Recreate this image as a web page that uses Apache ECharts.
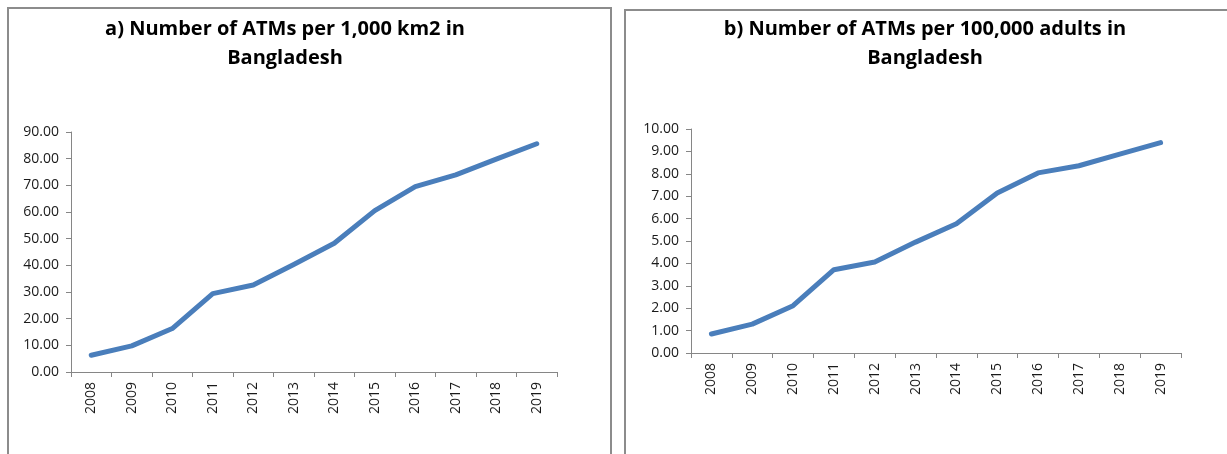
<!DOCTYPE html>
<html>
<head>
<meta charset="utf-8">
<script src="https://cdn.jsdelivr.net/npm/echarts@6/dist/echarts.min.js"></script>
<style>
  html, body { margin: 0; padding: 0; background: #ffffff; }
  #chart { width: 1227px; height: 454px; }
</style>
</head>
<body>
<div id="chart"></div>
<script>
// Years on the category axis
const years = ['2008', '2009', '2010', '2011', '2012', '2013', '2014', '2015', '2016', '2017', '2018', '2019'];

// a) ATMs per 1,000 km2
const atmsPerArea = [6.3, 9.8, 16.3, 29.4, 32.6, 40.3, 48.3, 60.5, 69.5, 73.9, 79.8, 85.6];
// b) ATMs per 100,000 adults
const atmsPerAdults = [0.85, 1.29, 2.11, 3.72, 4.06, 4.95, 5.77, 7.14, 8.04, 8.36, 8.88, 9.39];

const titleA = ['a) Number of ATMs per 1,000 km2 in', 'Bangladesh'];
const titleB = ['b) Number of ATMs per 100,000 adults in', 'Bangladesh'];

const axisGrey = '#868686';
const lineBlue = '#4a7ebb';
const labelFont = 'Open Sans';

function valueAxis(gridIndex, max, interval) {
  return {
    type: 'value', gridIndex: gridIndex, min: 0, max: max, interval: interval,
    axisLine: { show: true, lineStyle: { color: axisGrey, width: 1 } },
    axisTick: { show: true, length: 5, lineStyle: { color: axisGrey } },
    splitLine: { show: false },
    axisLabel: {
      formatter: function (v) { return v.toFixed(2); },
      color: '#1a1a1a', fontFamily: labelFont, fontSize: 14, margin: 12
    }
  };
}

function categoryAxis(gridIndex) {
  return {
    type: 'category', gridIndex: gridIndex, data: years, boundaryGap: true,
    axisLine: { show: true, lineStyle: { color: axisGrey, width: 1 } },
    axisTick: { show: true, length: 5, interval: 0, lineStyle: { color: axisGrey } },
    axisLabel: {
      rotate: 90, interval: 0, margin: 10,
      color: '#1a1a1a', fontFamily: labelFont, fontSize: 14
    }
  };
}

function lineSeries(idx, data) {
  return {
    type: 'line', xAxisIndex: idx, yAxisIndex: idx, data: data,
    symbol: 'none', smooth: false, animation: false,
    lineStyle: { color: lineBlue, width: 5, cap: 'round', join: 'round' }
  };
}

function titleText(lines, cx) {
  return {
    type: 'text', x: cx, y: 15,
    style: {
      text: lines.join('\n'), textAlign: 'center', textVerticalAlign: 'top',
      font: 'bold 20px "Open Sans"', fill: '#000000', lineHeight: 29
    }
  };
}

const chart = echarts.init(document.getElementById('chart'));
chart.setOption({
  backgroundColor: '#ffffff',
  animation: false,
  grid: [
    { left: 71, top: 132, width: 486, height: 240 },
    { left: 691, top: 129, width: 490, height: 224 }
  ],
  xAxis: [categoryAxis(0), categoryAxis(1)],
  yAxis: [valueAxis(0, 90, 10), valueAxis(1, 10, 1)],
  series: [lineSeries(0, atmsPerArea), lineSeries(1, atmsPerAdults)],
  graphic: [
    {
      type: 'rect', shape: { x: 8, y: 8, width: 603, height: 470 },
      style: { fill: 'none', stroke: '#8c8c8c', lineWidth: 2 }
    },
    {
      type: 'rect', shape: { x: 625, y: 10, width: 620, height: 470 },
      style: { fill: 'none', stroke: '#8c8c8c', lineWidth: 2 }
    },
    titleText(titleA, 285),
    titleText(titleB, 925)
  ]
});
</script>
</body>
</html>
